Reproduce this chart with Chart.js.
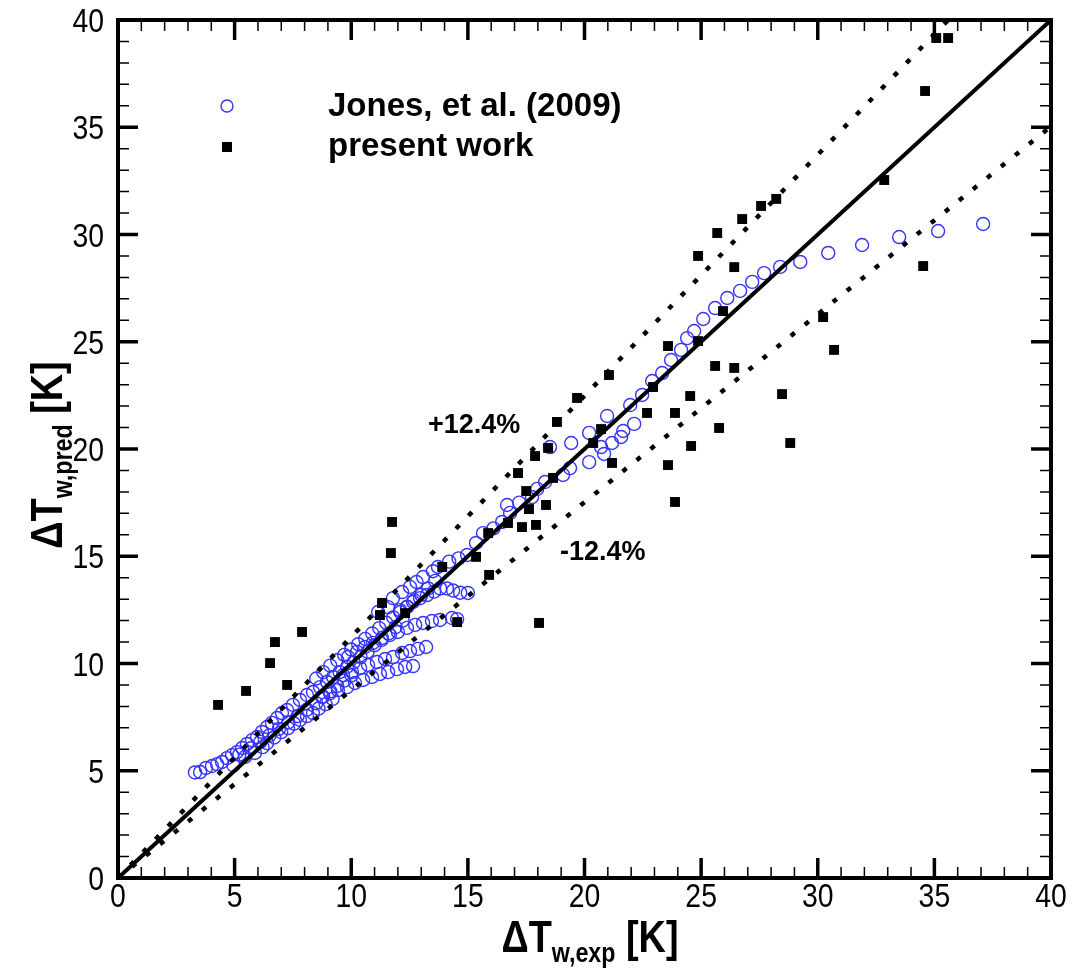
<!DOCTYPE html>
<html>
<head>
<meta charset="utf-8">
<script src="https://cdn.jsdelivr.net/npm/chart.js@4.4.1/dist/chart.umd.min.js"></script>
<style>
  html, body { margin: 0; padding: 0; background: #fff; }
  #wrap { width: 1078px; height: 971px; }
</style>
</head>
<body>
<div id="wrap"><canvas id="chart" width="1078" height="971"></canvas></div>
<script>
// Jones, et al. (2009) - measured vs predicted wall temperature rise
const jonesX = [
  // main trunk
  3.30, 3.52, 3.77, 4.03, 4.25, 4.46, 4.67, 4.89, 5.10, 5.32, 5.53, 5.75, 5.96, 6.17, 6.39, 6.60, 6.82, 7.03,
  7.25, 7.50, 7.80, 8.10, 8.36, 8.66, 8.96, 9.22, 9.50, 9.82, 10.10, 10.40, 10.70, 11.00, 11.30, 11.60, 11.90, 12.20,
  4.95, 5.45, 5.87, 6.20, 6.39, 6.70, 7.00, 7.29, 7.55, 7.80, 8.10, 8.36, 8.60, 8.90, 9.20,
  5.20, 5.70, 6.10, 6.50, 6.90, 7.30, 7.70, 8.10, 8.50, 8.80, 9.10, 9.40, 9.70, 10.00,
  8.50, 8.80, 9.10, 9.40, 9.70, 10.00, 10.30, 10.60, 10.90, 11.20, 11.50, 11.80, 12.10, 12.40, 12.70, 13.00, 13.30, 13.60,
  11.15, 11.58, 11.79, 12.18, 12.52, 12.80, 13.08, 13.50,
  // branches bending away
  12.09, 12.39, 12.65, 12.95, 13.25, 13.55, 13.81, 14.10, 14.37, 14.67, 15.00,
  9.86, 10.25, 10.59, 10.93, 11.32, 11.66, 12.00, 12.39, 12.74, 13.08, 13.46, 13.81, 14.32, 14.54,
  9.65, 10.03, 10.38, 10.72, 11.10, 11.45, 11.79, 12.18, 12.52, 12.86, 13.21,
  8.75, 9.09, 9.43, 9.82, 10.16, 10.51, 10.89, 11.23, 11.58, 11.96, 12.31, 12.65,
  // upper run
  13.72, 14.20, 14.60, 14.97, 15.35, 15.65, 16.10, 16.47, 16.81, 16.68, 17.20, 17.75, 17.97, 18.31, 18.52, 19.08,
  19.38, 19.43, 20.20, 20.20, 20.71, 20.84, 21.18, 21.57, 21.66, 22.13, 20.97, 21.96, 22.47, 22.90, 23.33, 23.71,
  24.14, 24.40, 24.70, 25.09, 25.60, 26.12, 26.67, 27.19, 27.70, 28.39, 29.25, 30.45, 31.90, 33.49, 35.16, 37.09
]
const jonesY = [
  4.92, 4.94, 5.13, 5.22, 5.31, 5.41, 5.59, 5.73, 5.87, 6.06, 6.25, 6.43, 6.57, 6.81, 7.04, 7.23, 7.46, 7.69,
  7.83, 8.07, 8.30, 8.53, 8.67, 8.90, 9.14, 9.37, 9.60, 9.85, 10.05, 10.30, 10.55, 10.85, 11.10, 11.40, 11.70, 12.00,
  5.25, 5.65, 5.83, 6.10, 6.29, 6.55, 6.80, 6.99, 7.20, 7.37, 7.55, 7.69, 7.90, 8.10, 8.35,
  5.75, 6.05, 6.35, 6.65, 6.95, 7.25, 7.55, 7.85, 8.15, 8.45, 8.70, 8.95, 9.20, 9.45,
  9.30, 9.60, 9.90, 10.15, 10.40, 10.65, 10.90, 11.15, 11.40, 11.65, 11.90, 12.15, 12.40, 12.65, 12.95, 13.20, 13.50, 13.85,
  12.40, 12.63, 13.05, 13.33, 13.57, 13.80, 14.03, 14.30,
  12.49, 12.63, 12.87, 13.05, 13.19, 13.35, 13.50, 13.50, 13.40, 13.30, 13.29,
  10.30, 10.54, 10.77, 10.96, 11.19, 11.33, 11.47, 11.66, 11.80, 11.89, 11.98, 12.03, 12.12, 12.07,
  9.46, 9.60, 9.79, 9.93, 10.07, 10.21, 10.30, 10.49, 10.58, 10.68, 10.77,
  8.44, 8.62, 8.76, 8.90, 9.09, 9.23, 9.37, 9.51, 9.60, 9.74, 9.84, 9.88,
  14.50, 14.75, 14.90, 15.06, 15.62, 16.08, 16.30, 16.60, 17.02, 17.39, 17.50, 17.76, 18.14, 18.46, 20.09, 18.79,
  19.11, 20.28, 20.75, 19.39, 20.09, 19.77, 20.28, 20.56, 20.84, 21.17, 21.54, 22.05, 22.52, 23.17, 23.54, 24.15,
  24.62, 25.17, 25.50, 26.06, 26.57, 27.04, 27.37, 27.79, 28.20, 28.49, 28.72, 29.14, 29.51, 29.88, 30.16, 30.49
]

// present work
const presentX = [
  4.29, 5.49, 6.52, 6.73, 7.25, 7.89, 11.23, 11.32, 11.70, 11.75, 12.31, 13.90, 14.54, 15.35, 15.87, 15.91,
  16.72, 17.15, 17.32, 17.50, 17.62, 17.88, 17.92, 18.05, 18.35, 18.44, 18.65, 18.82, 19.68, 20.37, 20.71, 21.05,
  21.18, 22.68, 22.94, 23.58, 23.58, 23.88, 23.88, 24.53, 24.57, 24.87, 24.87, 25.60, 25.69, 25.77, 25.94, 26.42,
  26.42, 26.76, 27.57, 28.22, 28.47, 28.82, 30.23, 30.70, 32.85, 34.52, 34.60, 35.08, 35.59
]
const presentY = [
  8.07, 8.72, 10.02, 11.00, 9.00, 11.47, 12.26, 12.82, 15.15, 16.60, 12.35, 14.50, 11.93, 14.97, 16.08, 14.13,
  16.55, 18.88, 16.36, 18.04, 17.20, 19.67, 16.46, 11.89, 17.39, 20.05, 18.65, 21.26, 22.38, 20.28, 20.93, 23.45,
  19.35, 21.68, 22.89, 24.80, 19.25, 21.68, 17.53, 22.47, 20.14, 25.03, 29.00, 23.87, 30.07, 20.98, 26.43, 23.78,
  28.48, 30.72, 31.33, 31.66, 22.56, 20.28, 26.15, 24.62, 32.54, 28.53, 36.69, 39.16, 39.16
]

// perfect agreement line and +/- band
const refX = [0, 40]
const bandPct = 12.4

const axisMin = 0
const axisMax = 40
const majorStep = 5

const seriesNames = ["Jones, et al. (2009)", "present work"]
const blue = "rgb(52, 52, 255)"
const sans = "'Liberation Sans', Arial, sans-serif"
const squeeze = 0.86 // the original uses a narrow Helvetica

const toPoints = (xs, ys) => xs.map((x, i) => ({ x, y: ys[i] }))
const refLine = (k) => refX.map((x) => ({ x, y: x * k }))

// text squeezed horizontally, anchored at (x, y)
function narrowText(ctx, text, x, y, align) {
  const w = ctx.measureText(text).width * squeeze
  let dx = 0
  if (align === "center") dx = -w / 2
  if (align === "right") dx = -w
  ctx.save()
  ctx.translate(x + dx, y)
  ctx.scale(squeeze, 1)
  ctx.textAlign = "left"
  ctx.fillText(text, 0, 0)
  ctx.restore()
}

// title with a subscript, drawn piece by piece
function drawTitle(ctx, parts) {
  let w = 0
  parts.forEach((p) => {
    ctx.font = `bold ${p.size}px ${sans}`
    p.w = ctx.measureText(p.text).width * squeeze
    w += p.w
  })
  let pos = -w / 2
  parts.forEach((p) => {
    ctx.font = `bold ${p.size}px ${sans}`
    narrowText(ctx, p.text, pos, p.dy, "left")
    pos += p.w
  })
}

const framePlugin = {
  id: "frame",
  afterDatasetsDraw(chart) {
    const { ctx, chartArea: a, scales } = chart
    const x = scales.x
    const y = scales.y
    ctx.save()
    ctx.strokeStyle = "#000"
    ctx.lineCap = "butt"
    for (let v = axisMin; v <= axisMax; v++) {
      const major = v % majorStep === 0
      const len = major ? 20 : 11
      ctx.lineWidth = major ? 3.5 : 1.5
      const px = x.getPixelForValue(v)
      const py = y.getPixelForValue(v)
      ctx.beginPath()
      ctx.moveTo(px, a.bottom); ctx.lineTo(px, a.bottom - len)
      ctx.moveTo(px, a.top); ctx.lineTo(px, a.top + len)
      ctx.moveTo(a.left, py); ctx.lineTo(a.left + len, py)
      ctx.moveTo(a.right, py); ctx.lineTo(a.right - len, py)
      ctx.stroke()
    }
    ctx.lineWidth = 4
    ctx.strokeRect(a.left, a.top, a.right - a.left, a.bottom - a.top)

    // tick labels from the scales' own ticks
    ctx.fillStyle = "#000"
    ctx.textBaseline = "alphabetic"
    ctx.font = `33px ${sans}`
    x.ticks.forEach((t) => {
      narrowText(ctx, String(t.value), x.getPixelForValue(t.value), a.bottom + 29, "center")
    })
    y.ticks.forEach((t) => {
      narrowText(ctx, String(t.value), a.left - 14, y.getPixelForValue(t.value) + 12, "right")
    })

    // legend
    ctx.strokeStyle = blue
    ctx.lineWidth = 1.4
    ctx.beginPath()
    ctx.arc(227, 106, 6, 0, Math.PI * 2)
    ctx.stroke()
    ctx.fillRect(222, 142, 10, 10)
    ctx.font = `bold 33px ${sans}`
    ctx.textBaseline = "middle"
    ctx.textAlign = "left"
    ctx.fillText(seriesNames[0], 328, 107)
    ctx.fillText(seriesNames[1], 328, 147)

    // band labels
    ctx.font = `bold 27px ${sans}`
    ctx.fillText(`+${bandPct}%`, 428, 426)
    ctx.fillText(`-${bandPct}%`, 560, 553)

    // axis titles
    ctx.textBaseline = "alphabetic"
    ctx.save()
    ctx.translate(590, 952)
    drawTitle(ctx, [
      { text: "ΔT", size: 44, dy: 0 },
      { text: "w,exp", size: 27, dy: 10 },
      { text: " [K]", size: 44, dy: 0 }
    ])
    ctx.restore()
    ctx.save()
    ctx.translate(62, 455)
    ctx.rotate(-Math.PI / 2)
    drawTitle(ctx, [
      { text: "ΔT", size: 44, dy: 0 },
      { text: "w,pred", size: 27, dy: 10 },
      { text: " [K]", size: 44, dy: 0 }
    ])
    ctx.restore()
    ctx.restore()
  }
}

const ctx = document.getElementById("chart").getContext("2d")

new Chart(ctx, {
  type: "scatter",
  data: {
    datasets: [
      {
        label: seriesNames[1],
        data: toPoints(presentX, presentY),
        pointStyle: "rect",
        pointRadius: 7,
        pointHoverRadius: 7,
        backgroundColor: "#000",
        borderWidth: 0,
        order: 0
      },
      {
        type: "line",
        label: "1:1",
        data: refLine(1),
        borderColor: "#000",
        borderWidth: 4,
        pointRadius: 0,
        fill: false,
        order: 1
      },
      {
        type: "line",
        label: "+band",
        data: refLine(1 + bandPct / 100),
        borderColor: "#000",
        borderWidth: 4.5,
        borderDash: [5, 13],
        pointRadius: 0,
        fill: false,
        order: 1
      },
      {
        type: "line",
        label: "-band",
        data: refLine(1 - bandPct / 100),
        borderColor: "#000",
        borderWidth: 4.5,
        borderDash: [5, 13],
        pointRadius: 0,
        fill: false,
        order: 1
      },
      {
        label: seriesNames[0],
        data: toPoints(jonesX, jonesY),
        pointStyle: "circle",
        pointRadius: 6.5,
        pointHoverRadius: 6.5,
        borderColor: blue,
        backgroundColor: "rgba(0,0,0,0)",
        borderWidth: 1.4,
        order: 2
      }
    ]
  },
  options: {
    responsive: false,
    animation: false,
    devicePixelRatio: 1,
    layout: { padding: { left: 0, right: 27, top: 20, bottom: 0 } },
    plugins: {
      legend: { display: false },
      tooltip: { enabled: false }
    },
    scales: {
      x: {
        type: "linear",
        min: axisMin,
        max: axisMax,
        afterFit: (s) => { s.height = 93 },
        grid: { display: false, drawTicks: false },
        border: { display: false },
        ticks: { display: false, stepSize: majorStep }
      },
      y: {
        type: "linear",
        min: axisMin,
        max: axisMax,
        afterFit: (s) => { s.width = 118 },
        grid: { display: false, drawTicks: false },
        border: { display: false },
        ticks: { display: false, stepSize: majorStep }
      }
    }
  },
  plugins: [framePlugin]
})
</script>
</body>
</html>
